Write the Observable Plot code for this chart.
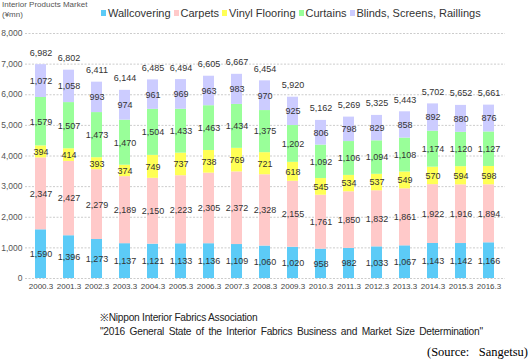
<!DOCTYPE html>
<html><head><meta charset="utf-8">
<script src="https://cdn.jsdelivr.net/npm/d3@7"></script>
<script src="https://cdn.jsdelivr.net/npm/@observablehq/plot@0.6"></script>
<style>
body{margin:0;width:530px;height:361px;background:#fff;font-family:"Liberation Sans",Arial,sans-serif;position:relative;overflow:hidden}
#title{position:absolute;left:2px;top:0px;font-size:8px;color:#555;line-height:10px}
#legend{position:absolute;left:101px;top:7px;display:flex;font-size:11px;color:#333;white-space:nowrap}
#legend .item{display:flex;align-items:center;margin-right:3px}
#legend .sw{width:5px;height:6px;margin-right:2px}
#chart{position:absolute;left:0;top:28px}
#cap{position:absolute;left:100px;top:311px;font-size:10.2px;color:#222;line-height:14px;letter-spacing:-0.25px;white-space:nowrap}
#cap .l2{word-spacing:2px}
#src{position:absolute;right:2px;top:345px;font-family:"Liberation Serif","Times New Roman",serif;font-size:12.5px;color:#000;white-space:pre}
</style></head>
<body>
<div id="title">Interior Products Market<br>(¥mn)</div>
<div id="legend"></div>
<div id="chart"></div>
<div id="cap">※Nippon Interior Fabrics Association<br><span class="l2">"2016 General State of the Interior Fabrics Business and Market Size Determination"</span></div>
<div id="src">(Source:   Sangetsu)</div>
<script>
const years = ["2000.3","2001.3","2002.3","2003.3","2004.3","2005.3","2006.3","2007.3","2008.3","2009.3","2010.3","2011.3","2012.3","2013.3","2014.3","2015.3","2016.3"];
const seriesNames = ["Wallcovering","Carpets","Vinyl Flooring","Curtains","Blinds, Screens, Raillings"];
const seriesColors = ["#5CCBF7","#FFC9C9","#FFFF55","#99FF99","#CCCCFF"];
const wallcovering = [1590,1396,1273,1137,1121,1133,1136,1109,1060,1020,958,982,1033,1067,1143,1142,1166];
const carpets = [2347,2427,2279,2189,2150,2223,2305,2372,2328,2155,1761,1850,1832,1861,1922,1916,1894];
const vinylFlooring = [394,414,393,374,749,737,738,769,721,618,545,534,537,549,570,594,598];
const curtains = [1579,1507,1473,1470,1504,1433,1463,1434,1375,1202,1092,1106,1094,1108,1174,1120,1127];
const blinds = [1072,1058,993,974,961,969,963,983,970,925,806,798,829,858,892,880,876];
const totals = [6982,6802,6411,6144,6485,6494,6605,6667,6454,5920,5162,5269,5325,5443,5702,5652,5661];
const yTicks = [0,1000,2000,3000,4000,5000,6000,7000,8000];

const seriesValues = [wallcovering, carpets, vinylFlooring, curtains, blinds];
const rows = [];
seriesNames.forEach((s, i) => years.forEach((y, j) => rows.push({year: y, series: s, value: seriesValues[i][j]})));
const totalRows = years.map((y, j) => ({year: y, total: totals[j]}));
const fmt = d3.format(",");

// legend
const lg = document.getElementById("legend");
seriesNames.forEach((s, i) => {
  const it = document.createElement("div"); it.className = "item";
  const sw = document.createElement("div"); sw.className = "sw"; sw.style.background = seriesColors[i];
  const tx = document.createElement("span"); tx.textContent = s;
  it.appendChild(sw); it.appendChild(tx); lg.appendChild(it);
});

const chart = Plot.plot({
  width: 530,
  height: 270,
  marginTop: 5,
  marginBottom: 20,
  marginLeft: 25,
  marginRight: 25,
  style: {fontFamily: "Liberation Sans, Arial, sans-serif", background: "#fff", overflow: "visible"},
  x: {domain: years, paddingInner: 0.6, paddingOuter: 0.3, label: null},
  y: {domain: [0, 8000], label: null},
  color: {domain: seriesNames, range: seriesColors},
  marks: [
    Plot.ruleY(yTicks, {stroke: "#cccccc", strokeDasharray: "2,1.5", strokeWidth: 1}),
    Plot.barY(rows, {x: "year", y: "value", fill: "series", z: "series", order: seriesNames}),
    Plot.text(rows, Plot.stackY({x: "year", y: "value", z: "series", order: seriesNames, text: d => fmt(d.value), fill: "#333", fontSize: 9, letterSpacing: "-0.4px"})),
    Plot.text(totalRows, {x: "year", y: "total", text: d => fmt(d.total), dy: -12, fill: "#333", fontSize: 9, letterSpacing: "-0.4px"}),
    Plot.axisX({tickSize: 0, tickPadding: 5, fontSize: 8, fill: "#444", letterSpacing: "-0.2px", label: null}),
    Plot.axisY({ticks: yTicks, tickFormat: fmt, tickSize: 0, tickPadding: 3, fontSize: 8.5, fill: "#555", label: null})
  ]
});
document.getElementById("chart").appendChild(chart);
</script>
</body></html>
